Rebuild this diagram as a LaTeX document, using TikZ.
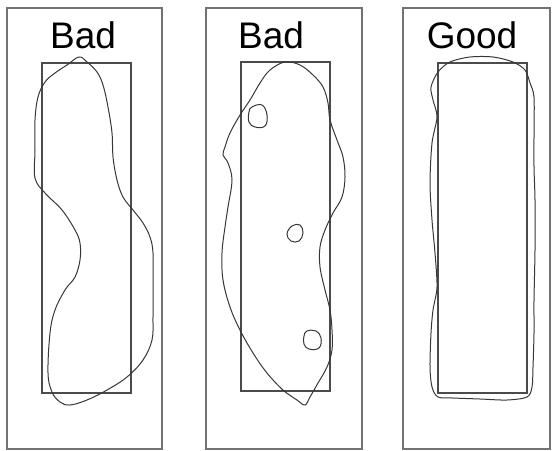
\documentclass[tikz,border=0pt]{standalone}
\usepackage{fontspec}
\setmainfont{Liberation Sans}
\usepackage{tikz}
\usetikzlibrary{positioning}
\definecolor{frameGray}{RGB}{115,115,115}
\definecolor{blobGray}{RGB}{55,55,55}
\tikzset{
  panelFrame/.style={draw=frameGray,line width=1.1pt},
  targetBox/.style={draw=blobGray!90,line width=1.1pt},
  blobLine/.style={draw=blobGray,line width=1pt,fill=white,fill opacity=0},
  holeLine/.style={draw=blobGray,line width=1pt},
  panelTitle/.style={anchor=base,inner sep=0pt,font=\fontsize{37}{40}\selectfont},
}
\begin{document}
\begin{tikzpicture}[x=1pt,y=-1pt]
  \useasboundingbox (0,0) rectangle (553,450);
  % outer frames
  \draw[panelFrame] (7,8) rectangle (162,449);
  \draw[panelFrame] (206,8) rectangle (362,449);
  \draw[panelFrame] (403,8) rectangle (550,449);
  % target rectangles
  \draw[targetBox] (42,63) rectangle (131,393);
  \draw[targetBox] (241,62) rectangle (330,391);
  \draw[targetBox] (438,63) rectangle (527,393);
  % titles
  \node[panelTitle] (titleA) at (83,48)  {Bad};
  \node[panelTitle] (titleB) at (271,48) {Bad};
  \node[panelTitle] (titleC) at (472,48) {Good};
  % bad: bent shape
  \draw[blobLine] plot[smooth cycle,tension=0.6] coordinates {
    (79,57) (87,62) (97,72) (103,85) (108,107) (112,133) (113,157)
    (117,180) (123,197) (133,210) (143,223) (150,237) (153,253)
    (153,283) (153,317) (152,340) (143,360) (127,377) (107,390)
    (87,400) (70,405) (60,402) (52,392) (48,373) (50,333) (55,310)
    (65,290) (75,277) (80,260) (80,243) (75,230) (62,210) (45,193)
    (35,178) (35,150) (35,120) (38,97) (45,82) (55,73) (67,65)};
  % bad: shape with holes
  \draw[blobLine] plot[smooth cycle,tension=0.6] coordinates {
    (285,62) (300,65) (313,75) (323,87) (328,103) (330,120) (337,140)
    (343,157) (345,177) (342,197) (333,213) (325,230) (320,247)
    (320,267) (325,290) (330,310) (332,330) (332,350) (327,367)
    (318,383) (310,397) (305,405) (297,400) (283,390) (267,373)
    (253,353) (240,330) (230,307) (223,280) (222,253) (225,227)
    (228,207) (232,180) (228,163) (223,155) (225,147) (230,133)
    (240,115) (250,100) (260,83) (270,70)};
  \draw[holeLine] plot[smooth cycle,tension=0.7] coordinates {
    (252,107) (262,105) (267,115) (265,126) (255,127) (249,122) (249,112)};
  \draw[holeLine] plot[smooth cycle,tension=0.7] coordinates {
    (292,226) (300,225) (303,233) (299,241) (291,241) (287,234)};
  \draw[holeLine] plot[smooth cycle,tension=0.7] coordinates {
    (307,331) (316,331) (321,338) (319,348) (309,349) (304,344) (304,336)};
  % good: near-rectangular shape
  \draw[blobLine] plot[smooth cycle,tension=0.5] coordinates {
    (438,72) (450,62) (470,57) (493,57) (513,62) (525,70) (530,83)
    (534,97) (534,133) (534,167) (535,200) (535,250) (534,300)
    (534,333) (533,367) (532,387) (527,397) (507,400) (480,399)
    (453,398) (438,397) (432,387) (430,367) (431,333) (433,310)
    (437,287) (435,253) (432,220) (430,183) (432,143) (437,117)
    (433,100) (431,87)};
\end{tikzpicture}
\end{document}
